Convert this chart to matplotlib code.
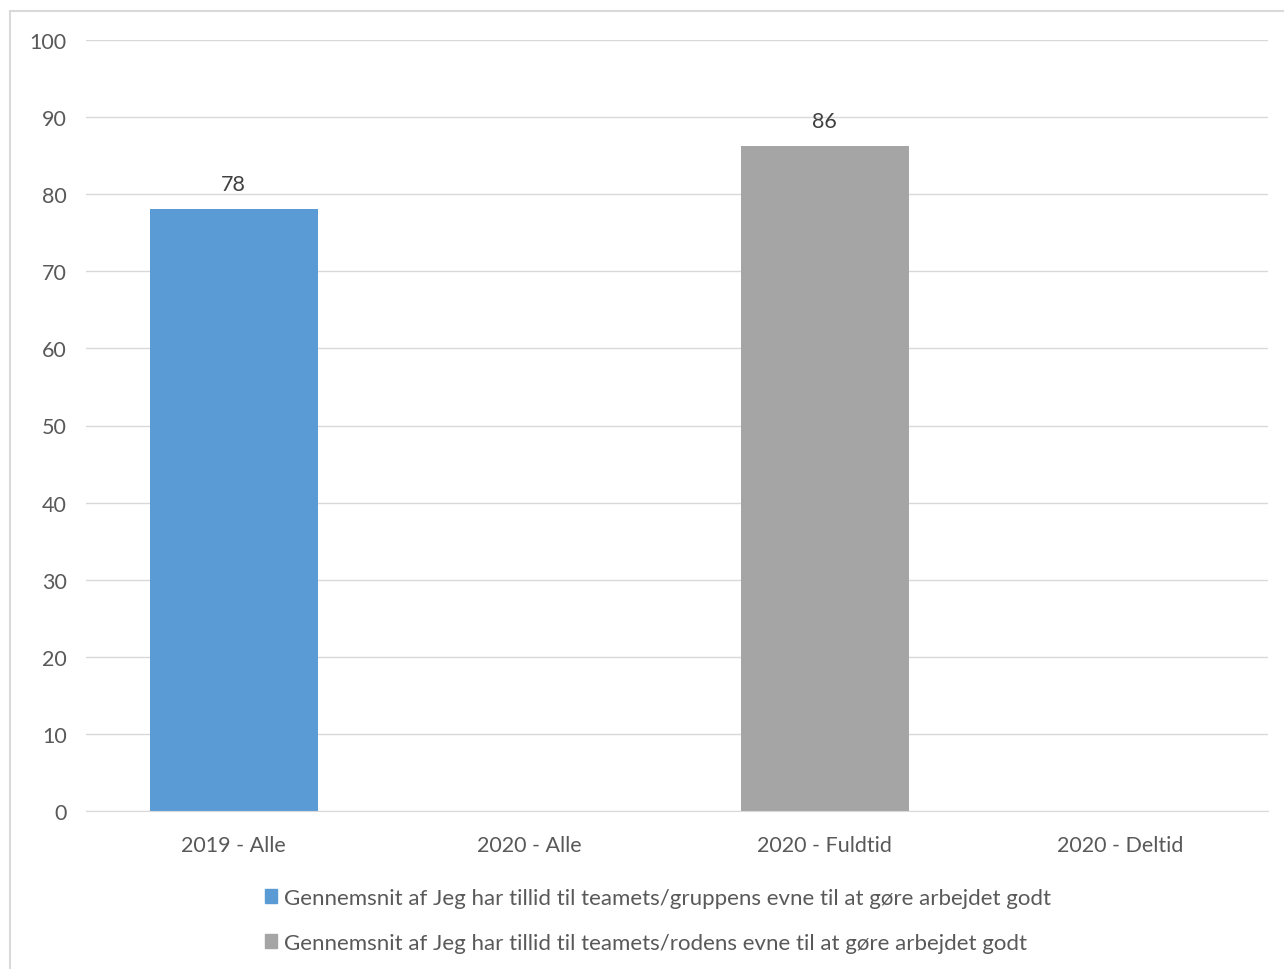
import numpy as np
import matplotlib.pyplot as plt
from matplotlib.patches import Rectangle, Patch

categories = ["2019 - Alle", "2020 - Alle", "2020 - Fuldtid", "2020 - Deltid"]
series_names = [
    "Gennemsnit af Jeg har tillid til teamets/gruppens evne til at gøre arbejdet godt",
    "Gennemsnit af Jeg har tillid til teamets/rodens evne til at gøre arbejdet godt",
]
gruppens = [78.1, np.nan, np.nan, np.nan]
rodens = [np.nan, np.nan, 86.3, np.nan]
colors = ["#5b9bd5", "#a5a5a5"]

plt.rcParams["font.family"] = ["Lato", "DejaVu Sans"]

W, H = 1284, 970
fig = plt.figure(figsize=(W / 100, H / 100), dpi=100)
ax = fig.add_axes([86 / W, 1 - 812 / H, (1268 - 86) / W, (812 - 41) / H])

# chart border (runs off the right and bottom edge)
fig.add_artist(Rectangle((10 / W, -0.05), 1.2, 1 - 12 / H + 0.05,
                         transform=fig.transFigure, fill=False,
                         edgecolor="#d9d9d9", linewidth=1.5))

x = np.arange(len(categories))
for vals, col in zip([gruppens, rodens], colors):
    bars = ax.bar(x, vals, width=0.57, color=col)
    for b, v in zip(bars, vals):
        if not np.isnan(v):
            ax.text(b.get_x() + b.get_width() / 2, v + 1.9, f"{v:.0f}",
                    ha="center", va="bottom", fontsize=15.5, color="#404040")

ax.set_xlim(-0.5, len(categories) - 0.5)
ax.set_ylim(0, 100)
ax.set_yticks(range(0, 101, 10))
ax.set_xticks(x)
ax.set_xticklabels(categories)
ax.tick_params(length=0, labelsize=15.5, colors="#595959")
ax.tick_params(axis="y", pad=14)
ax.tick_params(axis="x", pad=17)
ax.grid(axis="y", color="#d9d9d9", linewidth=1)
ax.set_axisbelow(True)
for s in ["top", "right", "left"]:
    ax.spines[s].set_visible(False)
ax.spines["bottom"].set_color("#d9d9d9")

handles = [Patch(color=c) for c in colors]
leg = fig.legend(handles, series_names, loc="upper left",
                 bbox_to_anchor=(256 / W, 1 - 880 / H), frameon=False,
                 fontsize=16, handlelength=0.55, handleheight=0.55,
                 handletextpad=0.3, labelspacing=1.12, borderaxespad=0)
for t in leg.get_texts():
    t.set_color("#595959")

fig.savefig("out.png", dpi=100)
